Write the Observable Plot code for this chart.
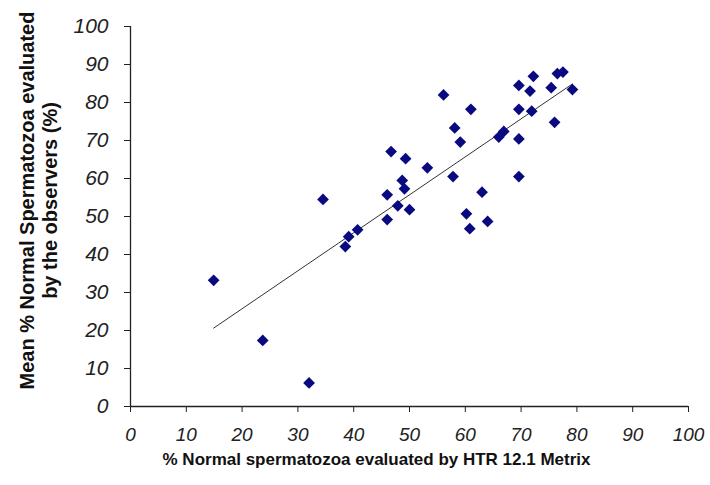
<!DOCTYPE html>
<html>
<head>
<meta charset="utf-8">
<script src="https://cdn.jsdelivr.net/npm/d3@7"></script>
<script src="https://cdn.jsdelivr.net/npm/@observablehq/plot@0.6"></script>
<style>
  html, body { margin: 0; padding: 0; background: #fff; }
  #chart svg { display: block; }
</style>
</head>
<body>
<div id="chart"></div>
<script>
// Data
const htrMetrix = [14.9, 23.7, 32.0, 34.5, 38.5, 39.1, 40.7, 46.0, 46.0, 46.7, 47.9, 48.7, 49.1, 49.3, 50.0, 53.2, 56.1, 57.8, 58.1, 59.1, 60.2, 60.8, 61.0, 63.0, 64.0, 66.0, 66.9, 69.6, 69.6, 69.6, 69.6, 71.6, 71.9, 72.2, 75.4, 76.0, 76.5, 77.5, 79.2];
const observersMean = [33.2, 17.4, 6.2, 54.5, 42.1, 44.7, 46.5, 49.2, 55.7, 67.1, 52.8, 59.5, 57.3, 65.2, 51.8, 62.8, 82.0, 60.5, 73.3, 69.6, 50.7, 46.8, 78.2, 56.4, 48.7, 70.9, 72.4, 60.5, 70.4, 78.2, 84.5, 83.0, 77.7, 86.9, 83.9, 74.8, 87.6, 88.0, 83.4];
const xTicks = [0, 10, 20, 30, 40, 50, 60, 70, 80, 90, 100];
const yTicks = [0, 10, 20, 30, 40, 50, 60, 70, 80, 90, 100];
const xTitle = "% Normal spermatozoa evaluated by HTR 12.1 Metrix";
const yTitle1 = "Mean % Normal Spermatozoa evaluated";
const yTitle2 = "by the observers (%)";

const data = htrMetrix.map((x, i) => ({x, y: observersMean[i]}));

const chart = Plot.plot({
  width: 710,
  height: 485,
  marginLeft: 130,
  marginRight: 22,
  marginTop: 26,
  marginBottom: 79,
  style: {fontFamily: "Liberation Sans, Arial, sans-serif", background: "#fff", color: "#000"},
  x: {domain: [0, 100]},
  y: {domain: [0, 100]},
  marks: [
    Plot.axisX({ticks: xTicks, tickSize: 6, tickPadding: 15, fontSize: 19, fontStyle: "italic", label: null, fill: "#222", stroke: "#222"}),
    Plot.axisY({ticks: yTicks, tickSize: 6, tickPadding: 16, fontSize: 21, fontStyle: "italic", label: null, fill: "#222", stroke: "#222"}),
    Plot.ruleX([0], {stroke: "#222", strokeWidth: 1.3}),
    Plot.ruleY([0], {stroke: "#222", strokeWidth: 1.3}),
    Plot.linearRegressionY(data, {x: "x", y: "y", ci: 0, stroke: "#333", strokeWidth: 1}),
    Plot.dot(data, {x: "x", y: "y", symbol: "diamond2", r: 5.3, fill: "#0a0a80", stroke: "none"}),
    Plot.text([xTitle], {frameAnchor: "bottom", textAnchor: "middle", dx: -33, dy: 58, text: d => d, fontSize: 17, fontWeight: "bold", fill: "#111"}),
    Plot.text([yTitle1], {frameAnchor: "left", textAnchor: "middle", rotate: -90, dx: -103, dy: -16, text: d => d, fontSize: 20, fontWeight: "bold", fill: "#111"}),
    Plot.text([yTitle2], {frameAnchor: "left", textAnchor: "middle", rotate: -90, dx: -80, dy: -16, text: d => d, fontSize: 20, fontWeight: "bold", fill: "#111"})
  ]
});
document.getElementById("chart").appendChild(chart);
</script>
</body>
</html>
